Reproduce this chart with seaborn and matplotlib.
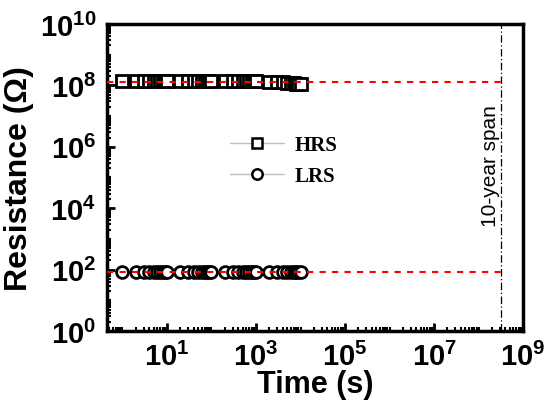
import pandas as pd
import seaborn as sns
import matplotlib.pyplot as plt
from matplotlib.lines import Line2D
from matplotlib.ticker import FixedLocator, LogLocator, NullFormatter

# retention data
time_s = [1, 2, 3, 4, 5, 6, 7, 8, 9,
          10, 20, 30, 40, 50, 60, 70, 80, 90,
          100, 200, 300, 400, 500, 600, 700, 800, 900,
          1000, 2000, 3000, 4000, 5000, 6000, 7000, 8000, 9000, 10000]
hrs_ohm = [1.40e8, 1.38e8, 1.40e8, 1.39e8, 1.40e8, 1.38e8, 1.40e8, 1.39e8, 1.38e8,
           1.40e8, 1.39e8, 1.40e8, 1.38e8, 1.39e8, 1.40e8, 1.38e8, 1.39e8, 1.40e8,
           1.39e8, 1.38e8, 1.40e8, 1.39e8, 1.38e8, 1.39e8, 1.40e8, 1.38e8, 1.39e8,
           1.38e8, 1.30e8, 1.28e8, 1.25e8, 1.22e8, 1.20e8, 1.15e8, 1.12e8, 1.10e8, 1.08e8]
lrs_ohm = [82, 83, 82, 83, 82, 83, 82, 83, 82,
           82, 83, 82, 83, 82, 83, 82, 83, 82,
           83, 82, 83, 82, 83, 82, 83, 82, 83,
           82, 83, 82, 83, 82, 83, 82, 83, 82, 83]

ten_years = 3.15e8
hrs_level = 1.3e8
lrs_level = 83

df = pd.DataFrame({"time": time_s * 2,
                   "R": hrs_ohm + lrs_ohm,
                   "state": ["HRS"] * len(time_s) + ["LRS"] * len(time_s)})

sns.set_style("ticks")
plt.rcParams["font.family"] = ["Liberation Sans", "DejaVu Sans"]
plt.rcParams["mathtext.fontset"] = "custom"
plt.rcParams["mathtext.rm"] = "Liberation Sans:bold"
plt.rcParams["mathtext.bf"] = "Liberation Sans:bold"
for k in ["text.color", "axes.labelcolor", "xtick.color", "ytick.color", "axes.edgecolor"]:
    plt.rcParams[k] = "black"

fig = plt.figure(figsize=(5.46, 4.02), dpi=100)
ax = fig.add_axes([0.196, 0.174, 0.762, 0.764])
ax.set_xscale("log")
ax.set_yscale("log")

sns.lineplot(data=df, x="time", y="R", style="state", markers={"HRS": "s", "LRS": "o"},
             dashes=False, color="0.6", lw=1, markersize=8.5, markeredgewidth=2,
             markeredgecolor="black", markerfacecolor="white", legend=False, ax=ax)

# extrapolation lines and 10-year marker
sns.lineplot(x=[0.45, ten_years], y=[hrs_level, hrs_level], color="red", ls=(0, (3, 3)),
             lw=1.5, zorder=4, ax=ax)
sns.lineplot(x=[0.45, ten_years], y=[lrs_level, lrs_level], color="red", ls=(0, (3, 3)),
             lw=1.5, zorder=4, ax=ax)
ax.axvline(ten_years, color="black", ls=(0, (6, 2, 1, 2)), lw=0.9)
ax.text(1.85e8, 2.5e5, "10-year span", rotation=90, fontsize=15, ha="center", va="center")

ax.set_xlim(0.45, 1e9)
ax.set_ylim(1, 1e10)

ax.xaxis.set_major_locator(FixedLocator([1e1, 1e3, 1e5, 1e7, 1e9]))
ax.xaxis.set_minor_locator(LogLocator(base=10, subs=range(1, 10), numticks=30))
ax.xaxis.set_minor_formatter(NullFormatter())
ax.set_xticklabels([r"$10^{1}$", r"$10^{3}$", r"$10^{5}$", r"$10^{7}$", r"$10^{9}$"])
ax.yaxis.set_major_locator(FixedLocator([1, 1e2, 1e4, 1e6, 1e8, 1e10]))
ax.yaxis.set_minor_locator(LogLocator(base=10, subs=range(1, 10), numticks=30))
ax.yaxis.set_minor_formatter(NullFormatter())
ax.set_yticklabels([r"$10^{0}$", r"$10^{2}$", r"$10^{4}$", r"$10^{6}$", r"$10^{8}$", r"$10^{10}$"])

ax.tick_params(which="major", direction="in", length=6, width=2, labelsize=21, pad=8,
               top=False, right=False)
ax.tick_params(which="minor", direction="in", length=3, width=1.5, top=False, right=False)
for s in ax.spines.values():
    s.set_linewidth(2.5)
    s.set_visible(True)

ax.set_xlabel("Time (s)", fontsize=22, fontweight="bold", labelpad=-2)
ax.set_ylabel("Resistance (Ω)", fontsize=23, fontweight="bold", labelpad=4)

handles = [Line2D([], [], color="0.75", lw=1, marker="s", ms=7.5, mec="black", mfc="white", mew=1.8),
           Line2D([], [], color="0.75", lw=1, marker="o", ms=7.5, mec="black", mfc="white", mew=1.8)]
ax.legend(handles, ["HRS", "LRS"], loc="center left", bbox_to_anchor=(0.25, 0.555),
          frameon=False, prop={"family": "Liberation Serif", "weight": "bold", "size": 15},
          handlelength=2.6, handletextpad=0.5, labelspacing=0.55)

fig.savefig("out.png", dpi=100)
